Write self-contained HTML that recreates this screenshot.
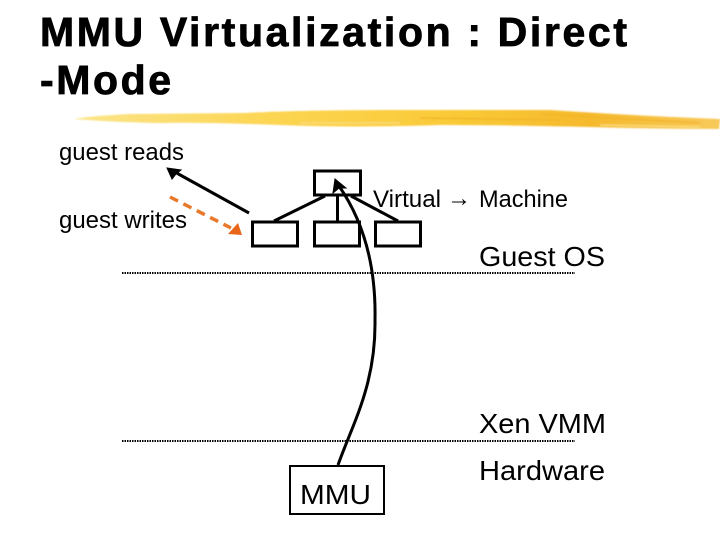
<!DOCTYPE html>
<html>
<head>
<meta charset="utf-8">
<style>
html,body{margin:0;padding:0;background:#fff;}
svg{display:block;}
text{font-family:"Liberation Sans",sans-serif;fill:#000;}
</style>
</head>
<body>
<svg width="720" height="540" viewBox="0 0 720 540" xmlns="http://www.w3.org/2000/svg">
<defs>
<linearGradient id="br" x1="0" x2="1" y1="0" y2="0">
<stop offset="0" stop-color="#fbe58a"/>
<stop offset="0.3" stop-color="#fcd552"/>
<stop offset="0.6" stop-color="#f9c936"/>
<stop offset="0.8" stop-color="#f5b92c"/>
<stop offset="1" stop-color="#f8c95a"/>
</linearGradient>
<filter id="soft" x="-2%" y="-30%" width="104%" height="160%"><feGaussianBlur stdDeviation="0.7"/></filter>
</defs>
<rect width="720" height="540" fill="#fff"/>
<text x="40" y="46" font-size="41" font-weight="bold" stroke="#000" stroke-width="0.8" textLength="587" lengthAdjust="spacing">MMU Virtualization : Direct</text>
<text x="40" y="94" font-size="41" font-weight="bold" stroke="#000" stroke-width="0.8" textLength="131" lengthAdjust="spacing">-Mode</text>

<g filter="url(#soft)">
<path d="M74 119 Q90 116 130 114 L245 113 Q300 110 400 110 L550 110 Q640 116 720 119 L719 129 Q660 129 590 127 Q500 125 440 125 Q350 128 280 125 Q200 122 160 123 Q110 122 74 119 Z" fill="url(#br)"/>
<path d="M420 118 L560 120 M540 114 L700 123" stroke="#f2b52a" stroke-width="1.500" fill="none"/>
<path d="M300 123 L400 123 M600 125 L700 127" stroke="#fbdc7a" stroke-width="1.500" fill="none"/>
</g>

<text x="59" y="160" font-size="24" textLength="125" lengthAdjust="spacingAndGlyphs">guest reads</text>
<text x="59" y="228" font-size="24" textLength="128" lengthAdjust="spacingAndGlyphs">guest writes</text>
<text x="373" y="207" font-size="24" textLength="68" lengthAdjust="spacingAndGlyphs">Virtual</text>
<text x="447" y="206" font-size="24" textLength="24" lengthAdjust="spacingAndGlyphs">→</text>
<text x="479" y="207" font-size="24" textLength="89" lengthAdjust="spacingAndGlyphs">Machine</text>
<text x="479" y="266" font-size="28" textLength="126" lengthAdjust="spacingAndGlyphs">Guest OS</text>
<text x="479" y="433" font-size="28" textLength="127" lengthAdjust="spacingAndGlyphs">Xen VMM</text>
<text x="479" y="480" font-size="28" textLength="126" lengthAdjust="spacingAndGlyphs">Hardware</text>

<g fill="#fff" stroke="#000" stroke-width="3">
<rect x="314.500" y="171" width="46" height="24"/>
<rect x="252.500" y="222" width="45" height="24"/>
<rect x="314.500" y="222" width="45" height="24"/>
<rect x="375.500" y="222" width="45" height="24"/>
</g>
<g stroke="#000" stroke-width="3" fill="none">
<line x1="325" y1="196" x2="274" y2="221"/>
<line x1="337.500" y1="196" x2="337.500" y2="221"/>
<line x1="351" y1="196" x2="398" y2="221"/>
</g>
<line x1="122" y1="273" x2="575" y2="273" stroke="#000" stroke-width="2" stroke-dasharray="1.5 1"/>
<line x1="122" y1="441" x2="575" y2="441" stroke="#000" stroke-width="2" stroke-dasharray="1.5 1"/>

<rect x="290" y="466" width="94" height="48" fill="#fff" stroke="#000" stroke-width="2"/>
<text x="300" y="504" font-size="28" textLength="71" lengthAdjust="spacingAndGlyphs">MMU</text>

<path d="M338 465 C352 425 376 385 375 320 C376 270 366 225 339 186" fill="none" stroke="#000" stroke-width="3"/>
<path d="M335 179 L346 188 L339 188 L333 193 Z" fill="#000" stroke="#000" stroke-width="1"/>

<line x1="249" y1="213" x2="173" y2="171" stroke="#000" stroke-width="3"/>
<path d="M167 168 L181 170 L176 174 L172 179 Z" fill="#000" stroke="#000" stroke-width="1"/>

<line x1="170" y1="197" x2="231" y2="228" stroke="#e8782a" stroke-width="3.500" stroke-dasharray="9 6"/>
<path d="M242 235 L228 234 L238 223 Z" fill="#e8661a"/>
</svg>
</body>
</html>
